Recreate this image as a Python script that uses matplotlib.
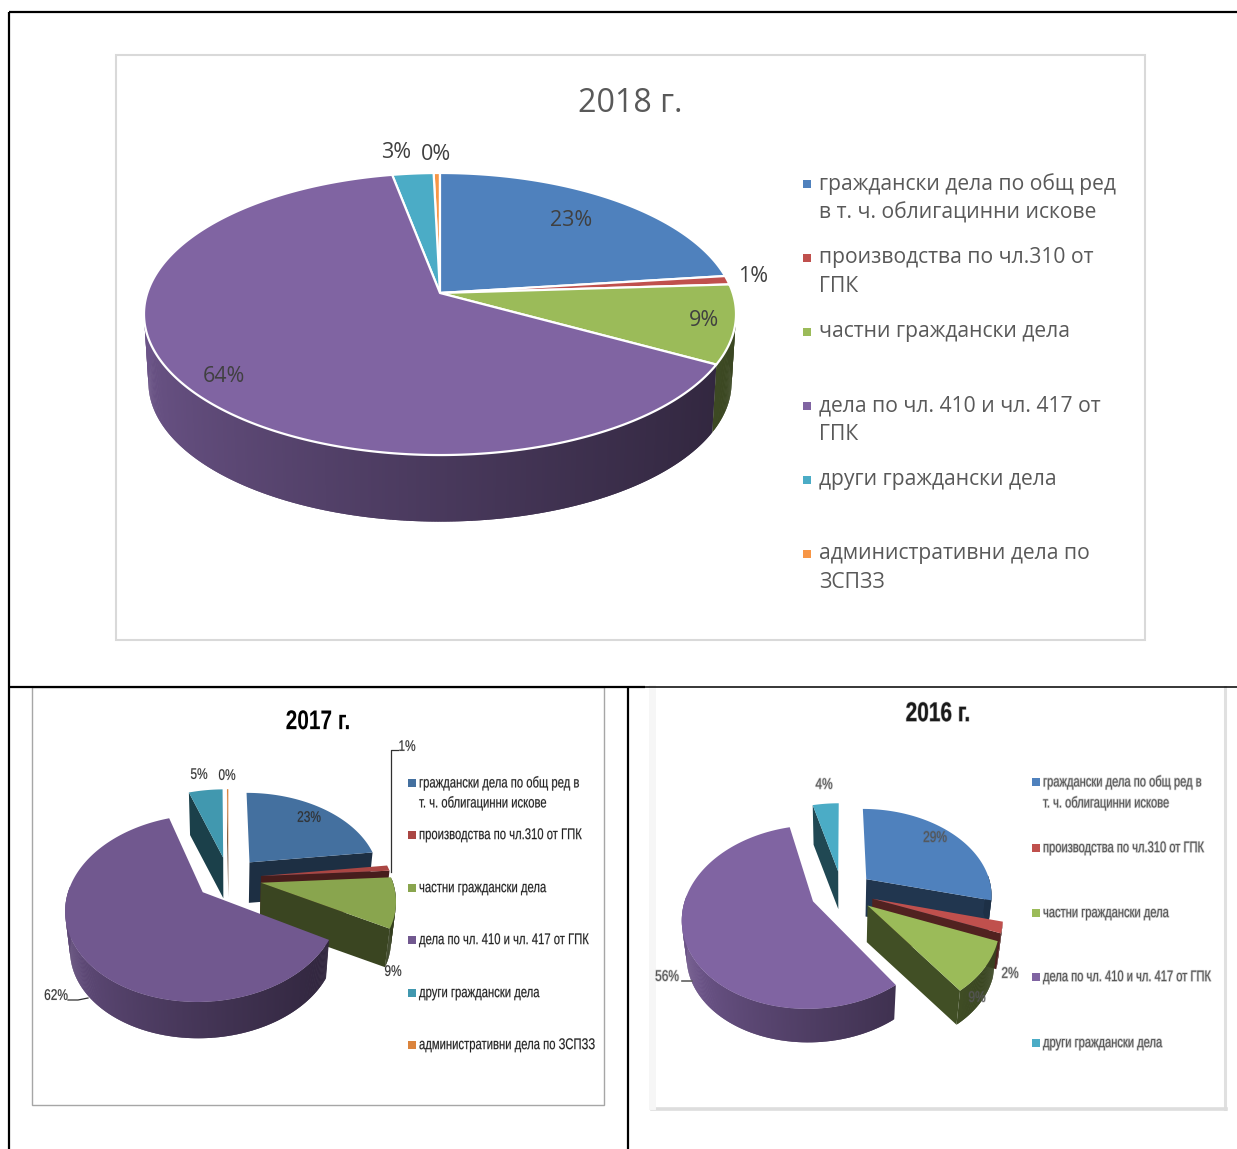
import numpy as np
import matplotlib
matplotlib.use("Agg")
import matplotlib.pyplot as plt
from matplotlib.collections import PolyCollection
from matplotlib.patches import Rectangle
from matplotlib.patheffects import AbstractPathEffect
from matplotlib.text import Text
from matplotlib.transforms import Affine2D, Bbox
from matplotlib.colors import to_rgb

LEGEND_2018 = ["граждански дела по общ ред\nв т. ч. облигацинни искове", "производства по чл.310 от\nГПК",
               "частни граждански дела", "дела по чл. 410 и чл. 417 от\nГПК",
               "други граждански дела", "административни дела по\nЗСПЗЗ"]
LEGEND_2017 = ["граждански дела по общ ред в\nт. ч. облигацинни искове", "производства по чл.310 от ГПК",
               "частни граждански дела", "дела по чл. 410 и чл. 417 от ГПК",
               "други граждански дела", "административни дела по ЗСПЗЗ"]
LEGEND_2016 = LEGEND_2017[:5]

VALUES_2018 = [23, 1, 9, 64, 2.6, 0.4]
VALUES_2017 = [23, 1, 9, 61.8, 5, 0.2]
VALUES_2016 = [29, 2, 9, 56, 4]

COLORS_2018 = ["#4F81BD", "#C0504D", "#9BBB59", "#8064A2", "#4BACC6", "#F79646"]
COLORS_2017 = ["#44709F", "#AA4643", "#89A54E", "#71588F", "#4198AF", "#DB843D"]
COLORS_2016 = ["#4F81BD", "#C0504D", "#9BBB59", "#8064A2", "#4BACC6"]

W, H = 1237, 1149
fig = plt.figure(figsize=(W / 100, H / 100), dpi=100, facecolor="white")
ax = fig.add_axes([0, 0, 1, 1])
ax.set_xlim(0, W); ax.set_ylim(H, 0); ax.axis("off")

NARROW = ["Liberation Sans"]
FONT = ["Open Sans", "DejaVu Sans"]


class Tall(AbstractPathEffect):
    """Draws the glyph outlines taller about the anchor, which gives a condensed look."""
    def __init__(self, owner, sy, halo=0.0):
        super().__init__()
        self.owner, self.sy, self.halo = owner, sy, halo

    def draw_path(self, renderer, gc, tpath, affine, rgbFace=None):
        y0 = self.owner.anchor_px()
        aff = affine + Affine2D().translate(0, -y0).scale(1, self.sy).translate(0, y0)
        if self.halo:
            g = renderer.new_gc()
            g.copy_properties(gc)
            g.set_linewidth(self.halo)
            g.set_foreground(rgbFace)
            g.set_alpha(0.3)
            renderer.draw_path(g, tpath, aff, None)
            g.restore()
        renderer.draw_path(gc, tpath, aff, rgbFace)


class NarrowText(Text):
    """Real text, set small and drawn taller; its extent reports the drawn box."""
    def __init__(self, x, y, s, sy=1.35, halo=0.0, **kw):
        super().__init__(x, y, s, **kw)
        self.sy = sy
        self.set_path_effects([Tall(self, sy, halo)])

    def anchor_px(self):
        return self.get_transform().transform(self.get_position())[1]

    def get_window_extent(self, renderer=None, dpi=None):
        bb = super().get_window_extent(renderer, dpi)
        y0 = self.anchor_px()
        return Bbox.from_extents(bb.x0, y0 + (bb.y0 - y0) * self.sy, bb.x1, y0 + (bb.y1 - y0) * self.sy)


def pie3d(values, colors, cx, cy, rx, ry, k, depth, shrink, explode, edge=None, lw=0, zbase=2):
    vals = np.asarray(values, float)
    edges = np.cumsum(np.r_[0, vals]) / vals.sum() * 2 * np.pi

    def proj(u, v, bottom=False):
        s = 1 / (1 + k * v)
        f = shrink if bottom else 1
        return (cx + rx * f * u * s, cy - ry * f * v * s + (depth if bottom else 0))

    mids = (edges[:-1] + edges[1:]) / 2
    order = np.argsort(-np.cos(mids))
    for n, i in enumerate(order):
        a0, a1, mid = edges[i], edges[i + 1], mids[i]
        col = np.array(to_rgb(colors[i]))
        ox, oy = explode * np.sin(mid), explode * np.cos(mid)
        th = np.linspace(a0, a1, max(3, int((a1 - a0) * 120)))
        u, v = ox + np.sin(th), oy + np.cos(th)
        tx, ty = proj(u, v)
        bx, by = proj(u, v, True)
        ax0, ay0 = proj(ox, oy)
        bx0, by0 = proj(ox, oy, True)
        z = zbase + n * 0.1
        dark = tuple(col * 0.42)
        # radial faces, only the ones turned to the viewer
        if np.sin(a0) < -1e-6:
            ax.fill([ax0, tx[0], bx[0], bx0], [ay0, ty[0], by[0], by0], color=dark, lw=0, zorder=z)
        if np.sin(a1) > 1e-6:
            ax.fill([ax0, tx[-1], bx[-1], bx0], [ay0, ty[-1], by[-1], by0], color=dark, lw=0, zorder=z)
        # rim with a shading that darkens from left to right
        polys, cols = [], []
        for j in range(len(th) - 2):
            if np.cos(th[j]) > 0.05 and np.cos(th[j + 1]) > 0.05:
                continue
            polys.append([(tx[j], ty[j]), (tx[j + 2], ty[j + 2]), (bx[j + 2], by[j + 2]), (bx[j], by[j])])
            t = np.clip((u[j] + 1) / 2, 0, 1)
            cols.append(tuple(col * (0.84 - 0.47 * t ** 0.8)))
        if polys:
            ax.add_collection(PolyCollection(polys, facecolors=cols, edgecolors="none", linewidths=0, zorder=z + 0.01))
        # top surface
        ax.fill(np.r_[ax0, tx], np.r_[ay0, ty], facecolor=colors[i], edgecolor=edge if edge else "none",
                lw=lw if edge else 0, joinstyle="round", zorder=z + 0.02)


def put_text(x, y, s, size, font, color, ha="left", sx=None, halo=0.0, weight="normal"):
    kw = dict(family=font, color=color, ha=ha, va="center", zorder=8, weight=weight)
    if sx is None:
        ax.text(x, y, s, fontsize=size, **kw)
    else:
        ax.add_artist(NarrowText(x, y, s, sy=1 / sx, halo=halo, fontsize=size * sx, **kw))


def legend(labels, colors, xs, xt, ys, size, font, dy2, color, sx=None, halo=0.0, sq=8):
    for lab, c, y in zip(labels, colors, ys):
        ax.add_patch(Rectangle((xs - sq / 2, y - sq / 2), sq, sq, facecolor=c, edgecolor="none", zorder=5))
        for m, line in enumerate(lab.split("\n")):
            put_text(xt, y + m * dy2, line, size, font, color, sx=sx, halo=halo)


def labels(vals, pos, size, font, color, sx=None, halo=0.0):
    for v, p in zip(vals, pos):
        put_text(p[0], p[1], f"{round(v)}%", size, font, color, ha="center", sx=sx, halo=halo)


# chart frames
ax.add_patch(Rectangle((115.5, 55), 1029, 585, facecolor="white", edgecolor="#D9D9D9", lw=1.5, zorder=1.5))
ax.add_patch(Rectangle((32, 687), 572, 418, facecolor="white", edgecolor="#A6A6A6", lw=1, zorder=1.5))
ax.plot([1224.5, 1224.5], [687, 1109], color="#E0E0E0", lw=2.2, zorder=1.6)
ax.plot([652, 1226], [1109, 1109], color="#DDDDDD", lw=2.6, zorder=1.6)
ax.plot([652, 652], [688, 1106], color="#F6F6F6", lw=5, zorder=1.6)

# table lines
BLK = dict(color="black", zorder=1.8, solid_capstyle="butt")
ax.plot([9, 1237], [12, 12], lw=1.6, **BLK)
ax.plot([9, 9], [12, 1149], lw=1.6, **BLK)
ax.plot([9, 645], [686.5, 686.5], lw=1.6, **BLK)
ax.plot([645, 1237], [686.5, 686.5], lw=1.1, **BLK)
ax.plot([628, 628], [687, 1149], lw=1.6, **BLK)

# 2018
pie3d(VALUES_2018, COLORS_2018, 440, 293, 292.7, 137.9, 0.149, 69, 0.985, 0, edge="white", lw=1.6)
put_text(630, 103, "2018 г.", 23.2, FONT, "#595959", ha="center")
labels(VALUES_2018, [(571, 220), (753, 277), (704, 320), (224, 376), (396, 152), (436, 154)], 15.5, FONT, "#404040")
legend(LEGEND_2018, COLORS_2018, 807, 819, [184, 258, 332, 406, 480, 554], 15.2, FONT, 29, "#595959")

# 2017
pie3d(VALUES_2017, COLORS_2017, 228.5, 878, 131, 86, 0.168, 40, 0.97, 0.25, zbase=3)
ax.plot([391, 391, 398], [872, 750, 750], color="#303030", lw=0.9, zorder=7)
ax.plot([68, 78, 88], [1000, 1000, 998], color="#303030", lw=0.9, zorder=7)
put_text(318, 722, "2017 г.", 19.5, NARROW, "black", ha="center", sx=0.77, weight="bold")
labels(VALUES_2017, [(309, 818), (407, 747), (393, 972), (56, 996), (199, 775), (227, 776)], 11, NARROW, "#303030", sx=0.78, halo=0.4)
legend(LEGEND_2017, COLORS_2017, 412, 419, [783, 835, 888, 940, 993, 1045], 11.2, NARROW, 20, "#202020", sx=0.725, halo=0.4)

# 2016
pie3d(VALUES_2016, COLORS_2016, 842, 892, 126, 86, 0.168, 37, 0.97, 0.25, zbase=3)
ax.plot([682, 692], [981, 981], color="#606060", lw=1.2, zorder=7)
put_text(938, 714, "2016 г.", 19.5, NARROW, "#1A1A1A", ha="center", sx=0.77, weight="bold", halo=0.8)
labels(VALUES_2016, [(935, 838), (1010, 974), (977, 998), (667, 977), (824, 785)], 11, NARROW, "#555555", sx=0.78, halo=1.0)
legend(LEGEND_2016, COLORS_2016, 1036, 1043, [782, 848, 913, 977, 1043], 11, NARROW, 21, "#555555", sx=0.73, halo=1.0)

fig.savefig("out.png", dpi=100, facecolor="white")
